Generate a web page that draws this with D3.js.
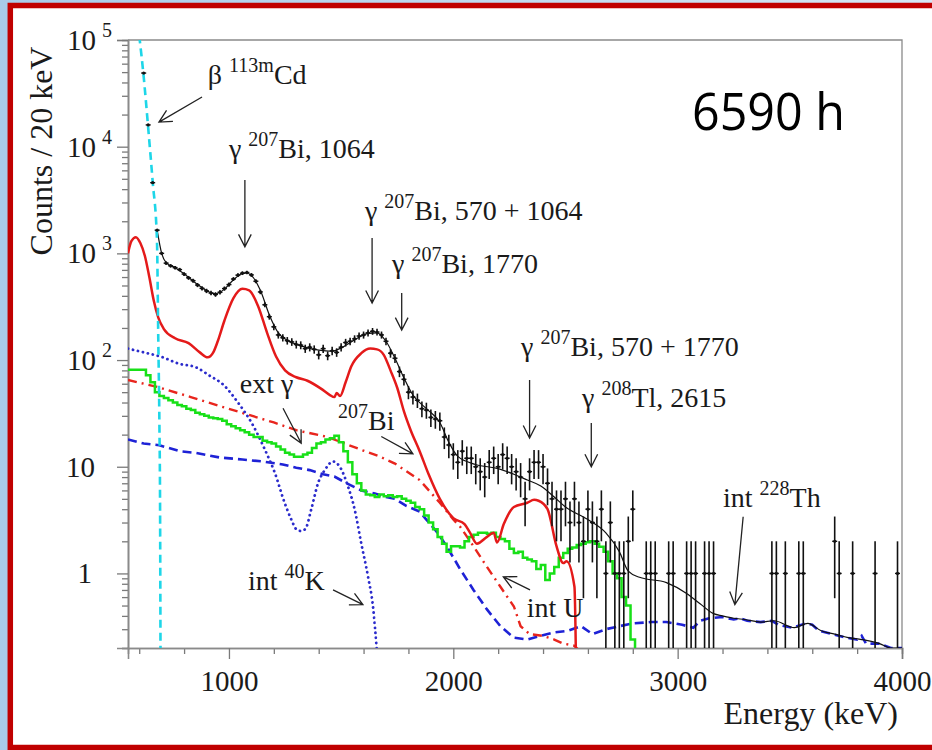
<!DOCTYPE html>
<html>
<head>
<meta charset="utf-8">
<title>Energy spectrum 6590 h</title>
<style>
    body { margin: 0; background: #fff; }
    svg { display: block; }
    .serif { font-family: "Liberation Serif", "DejaVu Serif", serif; fill: #1a1a1a; }
</style>
<script src="https://d3js.org/d3.v7.min.js"></script>
</head>
<body>
<svg width="932" height="750"></svg>
<script>
// ---- data (keV, counts / 20 keV) ----
var dataE = [620,640,660,680,700,720,740,760,780,800,
    820,840,860,880,900,920,940,960,980,1000,
    1020,1040,1060,1080,1100,1120,1140,1160,1180,1200,
    1220,1240,1260,1280,1300,1320,1340,1360,1380,1400,
    1420,1440,1460,1480,1500,1520,1540,1560,1580,1600,
    1620,1640,1660,1680,1700,1720,1740,1760,1780,1800,
    1820,1840,1860,1880,1900,1920,1940,1960,1980,2000,
    2020,2040,2060,2080,2100,2120,2140,2160,2180,2200,
    2220,2240,2260,2280,2300,2320,2340,2360,2380,2400,
    2420,2440,2460,2480,2500,2520,2540,2560,2580,2600,
    2620,2640,2660,2680,2700,2720,2740,2760,2780,2800,
    2860,2880,2900,2960,2980,3040,3060,3080,3120,3140,
    3160,3420,3440,3480,3540,3560,3700,3720,3780,3880,3980];
var dataN = [49000,16000,4600,1650,1000,810,765,735,705,640,
    590,555,505,470,445,425,412,432,468,510,
    575,625,652,662,628,548,435,330,255,205,
    172,162,152,148,140,138,128,132,126,112,
    128,110,122,118,132,146,150,158,168,172,
    180,186,183,172,150,116,104,78,66,50,
    45,42,35,34,29,28,27,19,16,13,
    11,14,12,12,10,9,8,11,12,10,
    13,12,10,9,8,5,9,11,11,10,
    7,5,4,4,5,3,5,3,2,4,
    3,2,4,1,3,1,1,1,2,4,
    1,1,1,1,1,1,1,1,1,1,
    1,1,1,1,1,1,2,1,1,1,1];

// total fit
var totE = [680,700,720,760,800,850,900,940,980,1020,
    1060,1080,1100,1140,1180,1220,1260,1320,1400,1460,
    1500,1560,1620,1660,1700,1740,1780,1820,1880,1940,
    1980,2020,2100,2200,2270,2330,2390,2450,2500,2600,
    2680,2740,2780,2830,2950,3040,3100,3160,3200,3250,
    3300,3370,3430,3520,3580,3640,3700,3760,3820,3900,
    3950,4000];
var totV = [1650,1000,820,735,645,530,448,418,462,565,
    648,655,622,450,265,180,153,136,124,121,
    130,155,178,180,150,104,68,47,35,26,
    17,12.5,10.5,9.6,8.5,7.5,6.6,5.2,4.2,3.2,
    2.4,1.6,1.05,0.92,0.82,0.65,0.52,0.42,0.4,0.38,
    0.37,0.35,0.36,0.31,0.34,0.29,0.27,0.25,0.24,0.22,
    0.2,0.2];

// 207Bi
var biE = [550,565,585,605,625,645,665,685,710,760,
    820,870,905,930,950,980,1020,1060,1090,1130,
    1170,1210,1250,1300,1350,1410,1450,1470,1480,1495,
    1520,1545,1590,1630,1660,1690,1720,1750,1780,1810,
    1850,1890,1940,2000,2050,2075,2105,2150,2180,2195,
    2225,2270,2330,2360,2380,2420,2460,2490,2505,2540,
    2548];
var biV = [1000,1300,1420,1250,950,600,360,250,195,160,
    144,118,106,118,150,235,380,465,450,320,
    180,108,80,69,64,54,47,45,49,46,
    62,87,116,128,126,112,80,55,33,22,
    14,8.5,5,3.3,2.9,2.4,1.9,2.2,2.4,1.95,
    2.9,4.2,4.6,4.9,4.8,4.0,1.8,1.25,1.3,0.75,
    0.1];

// beta 113mCd
var cdE = [600,620,640,660,679,685,690,693,695];
var cdV = [110000,45000,15000,4700,1350,155,25,4,0.15];

// int 40K
var kE = [550,620,700,780,850,920,970,1040,1100,1160,
    1205,1248,1278,1300,1320,1340,1367,1397,1427,1464,
    1494,1531,1560,1590,1620,1642,1660];
var kV = [128,118,107,92,86,70,60,40,26,14.5,
    8.7,4.6,3.2,2.6,2.5,2.6,4,7,9.3,11.2,
    10,6.5,4,1.9,0.93,0.49,0.18];

// int U
var uE = [550,680,830,960,1080,1200,1300,1440,1590,1670,
    1740,1850,1940,2000,2030,2090,2150,2210,2270,2300,
    2340,2400,2450,2490,2540,2560];
var uV = [65,56,45,37,31,26,22,19,14.4,12.5,
    10.7,7.5,4.6,3.2,2.75,1.8,1.15,0.75,0.49,0.32,
    0.27,0.26,0.24,0.22,0.21,0.19];

// int 228Th
var thE = [550,620,690,780,850,960,1060,1150,1240,1300,
    1360,1420,1470,1530,1590,1650,1700,1740,1790,1850,
    1880,1930,1970,2010,2030,2090,2150,2210,2270,2330,
    2390,2450,2510,2570,2620,2680,2740,2800,2880,2950,
    3020,3070,3100,3140,3200,3250,3280,3310,3370,3420,
    3450,3510,3570,3600,3630,3690,3750,3800,3820,3840,
    3900,3950,4000];
var thV = [18,16.5,15.9,14,13.5,12.2,11.7,11.2,10.5,9.8,
    9.3,8.5,8.1,6.9,6.0,5.6,5.2,5.0,4.3,3.8,
    3.2,2.4,1.8,1.3,1.1,0.7,0.46,0.32,0.25,0.24,
    0.26,0.28,0.29,0.32,0.27,0.30,0.32,0.34,0.35,0.35,
    0.33,0.31,0.36,0.38,0.39,0.37,0.38,0.36,0.35,0.36,
    0.33,0.31,0.34,0.33,0.29,0.27,0.25,0.24,0.26,0.22,
    0.22,0.2,0.2];

// ext gamma, histogram (low bin edges, 20 keV)
var extE = [550,570,590,610,630,650,670,690,710,730,
    750,770,790,810,830,850,870,890,910,930,
    950,970,990,1010,1030,1050,1070,1090,1110,1130,
    1150,1170,1190,1210,1230,1250,1270,1290,1310,1330,
    1350,1370,1390,1410,1430,1450,1470,1490,1510,1530,
    1550,1570,1590,1610,1630,1650,1670,1690,1710,1730,
    1750,1770,1790,1810,1830,1850,1870,1890,1910,1930,
    1950,1970,1990,2010,2030,2050,2070,2090,2110,2130,
    2150,2170,2190,2210,2230,2250,2270,2290,2310,2330,
    2350,2370,2390,2410,2430,2450,2470,2490,2510,2530,
    2550,2570,2590,2610,2630,2650,2670,2690,2710,2730,
    2750,2770,2790,2810];
var extV = [81,81,81,81,72,62,50,46,44,42,
    40,38,37,35,34,32,31,30,29,28.5,
    28,27,25,24,23,22,21,20,19,19,
    17.5,17,16.5,15.5,14.5,13.5,13,12.4,12.4,13,
    13.5,15,16.5,17,18,18.5,19.5,17,14,11,
    8.5,7,6,5.5,5.4,5.2,5.5,5.3,5.4,5.2,
    5.3,5,4.8,4.6,4.2,4,3.5,3,2.6,2.2,
    1.9,1.6,1.8,1.8,1.75,2,2.2,2.3,2.4,2.4,
    2.35,2.4,2.2,2.1,2,1.7,1.55,1.6,1.4,1.35,
    1.3,1.1,1.2,0.87,1,1.15,1.4,1.55,1.7,1.75,
    1.85,1.9,1.96,2,1.9,1.78,1.6,1.3,1,0.9,
    0.6,0.5,0.24,0.05];

var xMajor = [1000, 2000, 3000, 4000];
var yMajor = [1, 10, 100, 1000, 10000, 100000];

// labels: text pieces ("^" = superscript) and where they start, in data units
var notes = [
    {parts: ["β ", "^113m", "Cd"], at: [906, 38700]},
    {parts: ["γ ", "^207", "Bi, 1064"], at: [1000, 7830]},
    {parts: ["γ ", "^207", "Bi, 570 + 1064"], at: [1606, 2057]},
    {parts: ["γ ", "^207", "Bi, 1770"], at: [1727, 655]},
    {parts: ["γ ", "^207", "Bi, 570 + 1770"], at: [2302, 110]},
    {parts: ["γ ", "^208", "Tl, 2615"], at: [2574, 36.3]},
    {parts: ["ext γ"], at: [1048, 49]},
    {parts: ["^207", "Bi"], at: [1486, 22.1]},
    {parts: ["int ", "^40", "K"], at: [1085, 0.70]},
    {parts: ["int U"], at: [2327, 0.394]},
    {parts: ["int ", "^228", "Th"], at: [3202, 4.2]}
];
// arrows: [E from, counts from, E to, counts to]
var arrows = [
    [880, 29250, 688, 17000],
    [1071, 4870, 1071, 1150],
    [1638, 1393, 1638, 343],
    [1770, 426, 1770, 191],
    [2340, 65, 2340, 18.6],
    [2615, 25.7, 2615, 10],
    [1241, 35.3, 1322, 16.6],
    [1679, 19.2, 1820, 13.2],
    [1464, 0.70, 1597, 0.51],
    [2342, 0.70, 2223, 0.93],
    [3292, 3.4, 3255, 0.51]
];

var svg = d3.select("svg");
var serifFont = '"Liberation Serif", "DejaVu Serif", serif';

// page frame
var bg = svg.append("defs").append("linearGradient").attr("id", "bg");
bg.append("stop").attr("offset", "0").attr("stop-color", "#a9cbe9");
bg.append("stop").attr("offset", "1").attr("stop-color", "#d6e6f4");
svg.append("rect").attr("width", 932).attr("height", 750).attr("fill", "url(#bg)");
svg.append("rect")
    .attr("x", 10.3).attr("y", 5.5).attr("width", 940).attr("height", 742)
    .attr("fill", "#fff").attr("stroke", "#c00000").attr("stroke-width", 5.5);

var x = d3.scaleLinear().domain([550, 4000]).range([128, 902]);
var y = d3.scaleLog().domain([0.2, 100000]).range([648, 40]);

svg.append("clipPath").attr("id", "plot")
    .append("rect").attr("x", 128).attr("y", 40).attr("width", 774).attr("height", 608);

// frame of the plot
svg.append("path")
    .attr("d", "M128,40H902V648")
    .attr("fill", "none").attr("stroke", "#8a8a8a").attr("stroke-width", 1.3);

// x axis
var xMinor = d3.range(600, 4001, 200).filter(function (d) { return xMajor.indexOf(d) < 0; });
var gxm = svg.append("g").attr("transform", "translate(0,648)")
    .call(d3.axisBottom(x).tickValues(xMinor).tickSize(6).tickFormat(""));
var gx = svg.append("g").attr("transform", "translate(0,648)")
    .call(d3.axisBottom(x).tickValues(xMajor).tickSize(11).tickFormat(d3.format("d")));
gx.selectAll("text").attr("y", 43).attr("dy", 0)
    .style("font-family", serifFont).style("font-size", "29px").attr("fill", "#1a1a1a");

// y axis
var yMinor = [];
yMajor.concat([0.1]).forEach(function (d) {
    [2, 3, 4, 5, 6, 7, 8, 9].forEach(function (m) {
        var v = d * m;
        if (v >= 0.2 && v < 100000) yMinor.push(v);
    });
});
var gym = svg.append("g").attr("transform", "translate(128,0)")
    .call(d3.axisLeft(y).tickValues(yMinor).tickSize(6).tickFormat(""));
var gy = svg.append("g").attr("transform", "translate(128,0)")
    .call(d3.axisLeft(y).tickValues(yMajor).tickSize(11).tickFormat(""));

[gx, gxm, gy, gym].forEach(function (g) {
    g.select(".domain").attr("stroke", "#8a8a8a").attr("stroke-width", 1.6);
    g.selectAll(".tick line").attr("stroke", "#7a7a7a").attr("stroke-width", 1.3);
});

yMajor.forEach(function (d) {
    var e = Math.round(Math.log10(d));
    var t = svg.append("text").attr("class", "serif").attr("y", y(d)).attr("dy", "0.34em")
        .style("font-size", "29px");
    if (e === 0) {
        t.attr("x", 92).attr("text-anchor", "end").text("1");
    } else if (e === 1) {
        t.attr("x", 95).attr("text-anchor", "end").text("10");
    } else {
        t.attr("x", 67).text("10");
        t.append("tspan").attr("dx", 6).attr("dy", -13).style("font-size", "20px").text(e);
    }
});

// axis titles
svg.append("text").attr("class", "serif")
    .attr("transform", "translate(52,151) rotate(-90)")
    .attr("text-anchor", "middle").style("font-size", "32px")
    .text("Counts / 20 keV");
svg.append("text").attr("class", "serif")
    .attr("x", 898).attr("y", 724).attr("text-anchor", "end")
    .style("font-size", "32px").text("Energy (keV)");

// curves
var plot = svg.append("g").attr("clip-path", "url(#plot)");

function drawCurve(es, vs, curve, color, width, dash) {
    var line = d3.line()
        .x(function (d) { return x(d[0]); })
        .y(function (d) { return y(Math.max(d[1], 0.01)); })
        .curve(curve);
    plot.append("path")
        .datum(d3.zip(es, vs))
        .attr("d", line)
        .attr("fill", "none")
        .attr("stroke", color)
        .attr("stroke-width", width)
        .attr("stroke-linecap", dash === "dot" ? "round" : "butt")
        .attr("stroke-dasharray", dash === "dot" ? "0.1,5" : dash);
}

drawCurve(thE, thV, d3.curveLinear, "#1e22d6", 2.6, "9,5");
drawCurve(uE, uV, d3.curveLinear, "#e8251d", 2.4, "9,5,2,5");
drawCurve(kE, kV, d3.curveMonotoneX, "#2b2bcc", 2.8, "dot");
drawCurve(extE, extV, d3.curveStepAfter, "#18e018", 2.5, null);
drawCurve(biE, biV, d3.curveMonotoneX, "#e41a1a", 2.5, null);
drawCurve(totE, totV, d3.curveMonotoneX, "#111", 1.2, null);
drawCurve(cdE, cdV, d3.curveMonotoneX, "#1ed6e8", 2.6, "8,5");

// data points with sqrt(N) error bars
var pts = plot.selectAll("g.pt").data(d3.zip(dataE, dataN)).enter()
    .append("g").attr("class", "pt");
pts.append("line")
    .attr("x1", function (d) { return x(d[0]); })
    .attr("x2", function (d) { return x(d[0]); })
    .attr("y1", function (d) { return y(d[1] + Math.sqrt(d[1])); })
    .attr("y2", function (d) { return y(Math.max(d[1] - Math.sqrt(d[1]), 0.01)); })
    .attr("stroke", "#111").attr("stroke-width", 1.6);
pts.append("line")
    .attr("x1", function (d) { return x(d[0]) - 2.5; })
    .attr("x2", function (d) { return x(d[0]) + 2.5; })
    .attr("y1", function (d) { return y(d[1]); })
    .attr("y2", function (d) { return y(d[1]); })
    .attr("stroke", "#111").attr("stroke-width", 1.4);
pts.append("circle")
    .attr("cx", function (d) { return x(d[0]); })
    .attr("cy", function (d) { return y(d[1]); })
    .attr("r", 1.6).attr("fill", "#111");

// annotations
notes.forEach(function (n) {
    var t = svg.append("text").attr("class", "serif")
        .attr("x", x(n.at[0])).attr("y", y(n.at[1])).style("font-size", "28px");
    var up = false;
    n.parts.forEach(function (p) {
        var s = t.append("tspan");
        if (p[0] === "^") {
            s.text(p.slice(1)).style("font-size", "20px").attr("dy", up ? 0 : -12);
            up = true;
        } else {
            s.text(p).attr("dy", up ? 12 : 0);
            up = false;
        }
    });
});

arrows.forEach(function (a) {
    var x1 = x(a[0]), y1 = y(a[1]), x2 = x(a[2]), y2 = y(a[3]);
    var ang = Math.atan2(y2 - y1, x2 - x1), L = 14, h = 0.47;
    var d = "M" + x1 + "," + y1 + "L" + x2 + "," + y2 +
        "M" + (x2 - L * Math.cos(ang - h)) + "," + (y2 - L * Math.sin(ang - h)) +
        "L" + x2 + "," + y2 +
        "L" + (x2 - L * Math.cos(ang + h)) + "," + (y2 - L * Math.sin(ang + h));
    svg.append("path").attr("d", d).attr("fill", "none")
        .attr("stroke", "#222").attr("stroke-width", 1.3);
});

// run time
svg.append("text")
    .attr("x", x(3064)).attr("y", y(14350))
    .attr("textLength", 153).attr("lengthAdjust", "spacingAndGlyphs")
    .style("font-family", "'Open Sans', 'DejaVu Sans', sans-serif")
    .style("font-size", "52px").attr("fill", "#000")
    .text("6590 h");
</script>
</body>
</html>
